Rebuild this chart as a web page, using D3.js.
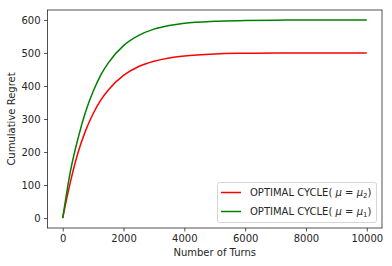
<!DOCTYPE html>
<html>
<head>
<meta charset="utf-8">
<script src="https://cdn.jsdelivr.net/npm/d3@7"></script>
<style>
  body { margin: 0; background: #fff; }
  text { font-family: "DejaVu Sans", sans-serif; fill: #262626; }
</style>
</head>
<body>
<svg width="392" height="266"></svg>
<script>
const svg = d3.select('svg');

// values
const turns = [0, 250, 500, 750, 1000, 1250, 1500, 2000, 2500, 3000, 3500, 4000, 5000, 6000, 7000, 8000, 9000, 10000];
const regretMu2 = [0, 108, 197, 264, 316, 357, 388, 432, 459, 475, 485, 491, 497, 499, 500, 500, 500, 500];
const regretMu1 = [0, 140, 240, 321, 383, 433, 470, 522, 553, 572, 583, 590, 596, 598, 599, 600, 600, 600];
const xTicks = [0, 2000, 4000, 6000, 8000, 10000];
const yTicks = [0, 100, 200, 300, 400, 500, 600];

const plotLeft = 47.5, plotRight = 382, plotTop = 10, plotBottom = 228;

const x = d3.scaleLinear().domain([-500, 10500]).range([plotLeft, plotRight]);
const y = d3.scaleLinear().domain([-30, 630]).range([plotBottom, plotTop]);

const xAxis = d3.axisBottom(x).tickValues(xTicks).tickSize(3.5).tickPadding(3.5).tickFormat(d3.format('d'));
const yAxis = d3.axisLeft(y).tickValues(yTicks).tickSize(3.5).tickPadding(3.5).tickFormat(d3.format('d'));

const gx = svg.append('g')
    .attr('transform', `translate(0, ${plotBottom})`)
    .call(xAxis);
const gy = svg.append('g')
    .attr('transform', `translate(${plotLeft}, 0)`)
    .call(yAxis);

[gx, gy].forEach(g => {
    g.select('.domain').remove();
    g.selectAll('.tick line').attr('stroke', '#262626').attr('stroke-width', 0.8);
    g.selectAll('.tick text').attr('font-size', 10).attr('fill', '#262626')
        .attr('font-family', '"DejaVu Sans", sans-serif');
});

const line = d3.line()
    .x((d, i) => x(turns[i]))
    .y(d => y(d))
    .curve(d3.curveMonotoneX);

svg.append('path')
    .attr('d', line(regretMu2))
    .attr('fill', 'none')
    .attr('stroke', 'red')
    .attr('stroke-width', 1.5);

svg.append('path')
    .attr('d', line(regretMu1))
    .attr('fill', 'none')
    .attr('stroke', 'green')
    .attr('stroke-width', 1.5);

// frame
svg.append('rect')
    .attr('x', plotLeft).attr('y', plotTop)
    .attr('width', plotRight - plotLeft).attr('height', plotBottom - plotTop)
    .attr('fill', 'none')
    .attr('stroke', '#262626')
    .attr('stroke-width', 0.8);

svg.append('text')
    .attr('x', (plotLeft + plotRight) / 2).attr('y', 256)
    .attr('text-anchor', 'middle')
    .attr('font-size', 10)
    .text('Number of Turns');

svg.append('text')
    .attr('transform', `translate(15, ${(plotTop + plotBottom) / 2}) rotate(-90)`)
    .attr('text-anchor', 'middle')
    .attr('font-size', 10)
    .text('Cumulative Regret');

// legend
const legend = svg.append('g');
legend.append('rect')
    .attr('x', 217.5).attr('y', 182.5)
    .attr('width', 159).attr('height', 40)
    .attr('rx', 2)
    .attr('fill', '#fff').attr('fill-opacity', 0.8)
    .attr('stroke', '#ccc').attr('stroke-width', 0.8);

const entries = [
    {color: 'red', sub: '2'},
    {color: 'green', sub: '1'},
];

entries.forEach((e, i) => {
    const yy = 192.5 + i * 19;
    legend.append('line')
        .attr('x1', 221).attr('x2', 241)
        .attr('y1', yy).attr('y2', yy)
        .attr('stroke', e.color).attr('stroke-width', 1.5);
    const t = legend.append('text')
        .attr('x', 250).attr('y', yy + 3.5)
        .attr('font-size', 10);
    t.append('tspan').text('OPTIMAL CYCLE( ');
    t.append('tspan').attr('font-style', 'italic').text('μ');
    t.append('tspan').text(' = ');
    t.append('tspan').attr('font-style', 'italic').text('μ');
    t.append('tspan').attr('font-size', 7).attr('dy', 2).text(e.sub);
    t.append('tspan').attr('dy', -2).text(')');
});
</script>
</body>
</html>
